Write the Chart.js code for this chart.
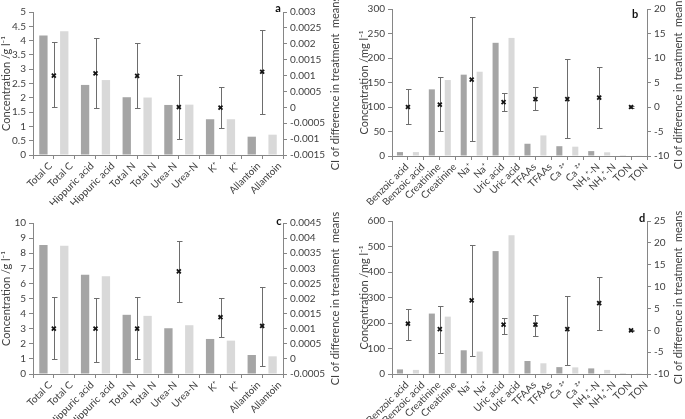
<!DOCTYPE html>
<html>
<head>
<meta charset="utf-8">
<script src="https://cdn.jsdelivr.net/npm/chart.js@4"></script>
<style>
  html, body { margin: 0; padding: 0; background: #fff; }
  body { width: 685px; height: 419px; position: relative; overflow: hidden; }
  canvas { position: absolute; display: block; }
</style>
</head>
<body>
<canvas id="chartA" width="342" height="205" style="left:0;top:0"></canvas>
<canvas id="chartB" width="327" height="205" style="left:358px;top:0"></canvas>
<canvas id="chartC" width="342" height="214" style="left:0;top:205px"></canvas>
<canvas id="chartD" width="327" height="214" style="left:358px;top:205px"></canvas>
<script>
// ---- data: top panels (a, b) and bottom panels (c, d) ----
// panel a: concentrations in g/l, two treatments per analyte
const aNames = ["Total C", "Hippuric acid", "Total N", "Urea-N", "K\u207a", "Allantoin"];
const aTreat1 = [4.18, 2.45, 2.02, 1.75, 1.25, 0.64];
const aTreat2 = [4.33, 2.62, 2.01, 1.76, 1.25, 0.71];
const aCiMean = [0.00100, 0.00107, 0.00099, 0.00001, -0.00001, 0.00112];
const aCiLow  = [0.00000, -0.00003, -0.00003, -0.00099, -0.00065, -0.00020];
const aCiHigh = [0.00207, 0.00218, 0.00204, 0.00101, 0.00063, 0.00243];

// panel b: concentrations in mg/l
const bNames = ["Benzoic acid", "Creatinine", "Na\u207a", "Uric acid", "TFAAs", "Ca \u00b2\u207a", "NH\u2084\u207a-N", "TON"];
const bTreat1 = [8, 136, 166, 231, 25, 20, 10, 1.4];
const bTreat2 = [8, 155, 172, 241, 42, 19, 7.5, 0.8];
const bCiMean = [0, 0.5, 5.6, 1.0, 1.6, 1.6, 1.9, 0];
const bCiLow  = [-3.4, -4.9, -6.9, -0.8, -0.65, -6.35, -4.3, -0.2];
const bCiHigh = [3.6, 6.05, 18.3, 2.95, 4.1, 9.7, 8.25, 0.2];

// panel c
const cNames = aNames;
const cTreat1 = [8.55, 6.57, 3.92, 3.03, 2.32, 1.26];
const cTreat2 = [8.50, 6.48, 3.85, 3.23, 2.21, 1.17];
const cCiMean = [0.00100, 0.00100, 0.00100, 0.00290, 0.00138, 0.00109];
const cCiLow  = [0.00000, -0.00009, 0.00000, 0.00190, 0.00072, -0.00025];
const cCiHigh = [0.00204, 0.00202, 0.00204, 0.00389, 0.00200, 0.00238];

// panel d
const dNames = bNames;
const dTreat1 = [18, 237, 93, 482, 51, 27, 22, 1];
const dTreat2 = [16, 225, 88, 544, 42, 26, 16, 1];
const dCiMean = [1.5, 0.25, 6.85, 1.3, 1.3, 0.25, 6.2, 0];
const dCiLow  = [-2.25, -5.25, -5.8, -0.75, -1.2, -7.9, 0, -0.05];
const dCiHigh = [4.85, 5.6, 19.4, 2.8, 3.55, 7.9, 12.3, 0.05];

const DARK = "#a5a5a5";
const LIGHT = "#d9d9d9";
const AXIS = "#868686";
const TEXT = "#404040";
const ERR = "#6d6d6d";
const RIGHT_TITLE = "CI of difference in treatment  means";

Chart.defaults.font.family = "Lato, 'Liberation Sans', sans-serif";
Chart.defaults.color = TEXT;

const fmt = v => String(+Number(v).toFixed(6));

// every step from min to max, so the short axes keep all their labels
function fullTicks(min, max, step) {
  return s => {
    const t = [];
    for (let k = 0; min + k * step <= max + step / 1000; k++) {
      t.push({ value: +(min + k * step).toFixed(6) });
    }
    s.ticks = t;
  };
}

// draws the CI whiskers after the bars, before the markers
function ciBars(low, high) {
  return {
    id: 'ciBars',
    afterDatasetDraw(chart, args) {
      if (args.meta.type !== 'bar') return;
      const xs = chart.scales.x2, ys = chart.scales.y2, ctx = chart.ctx;
      ctx.save();
      ctx.strokeStyle = ERR;
      ctx.lineWidth = 1;
      low.forEach((lo, i) => {
        const x = Math.round(xs.getPixelForValue(2 * i + 0.5)) + 0.5;
        const y1 = Math.round(ys.getPixelForValue(lo)) + 0.5;
        const y2 = Math.round(ys.getPixelForValue(high[i])) + 0.5;
        ctx.beginPath();
        ctx.moveTo(x, y1); ctx.lineTo(x, y2);
        ctx.moveTo(x - 2.5, y1); ctx.lineTo(x + 3, y1);
        ctx.moveTo(x - 2.5, y2); ctx.lineTo(x + 3, y2);
        ctx.stroke();
      });
      ctx.restore();
    }
  };
}

// panel letter + right axis title (reads bottom to top like the left one)
function decor(letter, dx, ly) {
  return {
    id: 'decor',
    afterDraw(chart) {
      const {ctx, chartArea} = chart;
      ctx.save();
      ctx.textAlign = 'center';
      ctx.textBaseline = 'middle';
      ctx.fillStyle = '#111';
      ctx.font = "bold 11px Lato, 'Liberation Sans', sans-serif";
      ctx.fillText(letter, chartArea.right + dx, ly);
      ctx.fillStyle = TEXT;
      ctx.font = "11px Lato, 'Liberation Sans', sans-serif";
      ctx.translate(chart.width - 7, (chartArea.top + chartArea.bottom) / 2);
      ctx.rotate(-Math.PI / 2);
      ctx.fillText(RIGHT_TITLE, 0, 0);
      ctx.restore();
    }
  };
}

function buildPanel(id, p) {
  const labels = [], conc = [], colors = [];
  p.names.forEach((n, i) => {
    labels.push(n, n);
    conc.push(p.t1[i], p.t2[i]);
    colors.push(DARK, LIGHT);
  });
  // CI marker sits between the two treatment bars of its analyte
  const points = p.mean.map((m, i) => ({x: 2 * i + 0.5, y: m}));

  const tickFont = { size: 10, lineHeight: 1 };

  return new Chart(document.getElementById(id), {
    type: 'bar',
    data: {
      labels: labels,
      datasets: [{
        type: 'bar',
        data: conc,
        backgroundColor: colors,
        barPercentage: p.barPct,
        categoryPercentage: 1,
        grouped: false,
        xAxisID: 'x',
        yAxisID: 'y',
        order: 2
      }, {
        type: 'scatter',
        data: points,
        xAxisID: 'x2',
        yAxisID: 'y2',
        pointStyle: 'crossRot',
        pointRadius: 2.8,
        borderWidth: 1.8,
        borderColor: '#151515',
        backgroundColor: '#151515',
        order: 1
      }]
    },
    options: {
      responsive: false,
      animation: false,
      devicePixelRatio: 1,
      layout: { padding: { top: p.top, left: 0, right: 0, bottom: 0 } },
      plugins: { legend: { display: false }, tooltip: { enabled: false } },
      scales: {
        x: {
          type: 'category',
          offset: true,
          grid: { offset: true, drawOnChartArea: false, tickLength: 4, color: AXIS },
          border: { color: AXIS },
          ticks: { autoSkip: false, minRotation: 45, maxRotation: 45, padding: 1, labelOffset: 7, font: { size: 10 }, color: TEXT },
          afterFit: s => { s.height = p.bottomH; }
        },
        x2: {
          type: 'linear',
          position: 'bottom',
          offset: false,
          min: -0.5, max: p.names.length * 2 - 0.5,
          grid: { display: false },
          border: { display: false },
          ticks: { display: false },
          afterFit: s => { s.height = 0; }
        },
        y: {
          position: 'left',
          min: p.yMin, max: p.yMax,
          grid: { drawOnChartArea: false, tickLength: 4, color: AXIS },
          border: { color: AXIS },
          ticks: { stepSize: p.yStep, autoSkip: false, autoSkipPadding: 0, callback: fmt, font: tickFont, padding: 3 },
          title: { display: true, text: p.yTitle, font: { size: 11 }, padding: { top: 0, bottom: 0 } },
          afterBuildTicks: fullTicks(p.yMin, p.yMax, p.yStep),
          afterFit: s => { s.width = p.leftW; }
        },
        y2: {
          position: 'right',
          min: p.y2Min, max: p.y2Max,
          grid: { drawOnChartArea: false, tickLength: 4, color: AXIS },
          border: { color: AXIS },
          ticks: { stepSize: p.y2Step, autoSkip: false, autoSkipPadding: 0, callback: fmt, font: tickFont, padding: 3 },
          afterBuildTicks: fullTicks(p.y2Min, p.y2Max, p.y2Step),
          afterFit: s => { s.width = p.rightW; }
        }
      }
    },
    plugins: [ciBars(p.low, p.high), decor(p.letter, p.letterDx, p.letterY)]
  });
}

buildPanel('chartA', {
  names: aNames, t1: aTreat1, t2: aTreat2, mean: aCiMean, low: aCiLow, high: aCiHigh,
  yMin: 0, yMax: 5, yStep: 0.5, y2Min: -0.0015, y2Max: 0.003, y2Step: 0.0005,
  yTitle: "Concentration /g l\u207b\u00b9", barPct: 0.4,
  leftW: 33, rightW: 59, top: 12, bottomH: 50, letter: 'a', letterDx: -5, letterY: 8
});

buildPanel('chartB', {
  names: bNames, t1: bTreat1, t2: bTreat2, mean: bCiMean, low: bCiLow, high: bCiHigh,
  yMin: 0, yMax: 300, yStep: 50, y2Min: -10, y2Max: 20, y2Step: 5,
  yTitle: "Concentration /mg l\u207b\u00b9", barPct: 0.38,
  leftW: 34, rightW: 38, top: 9, bottomH: 49, letter: 'b', letterDx: -12, letterY: 14
});

buildPanel('chartC', {
  names: cNames, t1: cTreat1, t2: cTreat2, mean: cCiMean, low: cCiLow, high: cCiHigh,
  yMin: 0, yMax: 10, yStep: 1, y2Min: -0.0005, y2Max: 0.0045, y2Step: 0.0005,
  yTitle: "Concentration /g l\u207b\u00b9", barPct: 0.4,
  leftW: 33, rightW: 59, top: 18, bottomH: 45, letter: 'c', letterDx: -4, letterY: 16
});

buildPanel('chartD', {
  names: dNames, t1: dTreat1, t2: dTreat2, mean: dCiMean, low: dCiLow, high: dCiHigh,
  yMin: 0, yMax: 600, yStep: 100, y2Min: -10, y2Max: 25, y2Step: 5,
  yTitle: "Concentration /mg l\u207b\u00b9", barPct: 0.38,
  leftW: 34, rightW: 38, top: 16, bottomH: 45, letter: 'd', letterDx: -5, letterY: 13
});
</script>
</body>
</html>
